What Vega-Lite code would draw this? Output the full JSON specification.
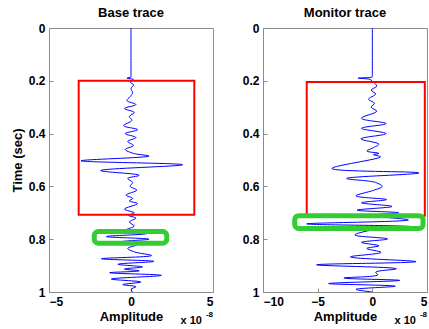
{
  "$schema": "https://vega.github.io/schema/vega-lite/v6.json",
  "padding": {"left": 10, "top": 6, "right": 0, "bottom": 0},
  "spacing": 27,
  "config": {
    "font": "Liberation Sans",
    "view": {"stroke": "#8c8c8c", "strokeWidth": 1},
    "axis": {
      "labelFont": "Liberation Sans", "labelFontWeight": "bold", "labelFontSize": 12, "labelColor": "#000",
      "titleFont": "Liberation Sans", "titleFontWeight": "bold", "titleFontSize": 13, "titleColor": "#000",
      "domain": false, "grid": false, "tickSize": -4, "tickColor": "#8c8c8c", "labelPadding": 8
    },
    "title": {"font": "Liberation Sans", "fontWeight": "bold", "fontSize": 13, "color": "#000", "offset": 2}
  },
  "datasets": {
    "base": [
      {"t": 0.0, "a": 0}, {"t": 0.1, "a": 0}, {"t": 0.18, "a": 0}, {"t": 0.185, "a": 0}, {"t": 0.19, "a": -0.25}, {"t": 0.195, "a": 0.15}, {"t": 0.205, "a": -0.05},
      {"t": 0.215, "a": 0.15}, {"t": 0.23, "a": 0.0}, {"t": 0.245, "a": 0.1}, {"t": 0.26, "a": -0.05}, {"t": 0.275, "a": -0.25},
      {"t": 0.29, "a": 0.3}, {"t": 0.305, "a": -0.4}, {"t": 0.32, "a": 0.2}, {"t": 0.335, "a": -0.1}, {"t": 0.35, "a": 0.05},
      {"t": 0.37, "a": -0.45}, {"t": 0.385, "a": 0.4}, {"t": 0.4, "a": -0.35}, {"t": 0.415, "a": 0.3}, {"t": 0.43, "a": -0.2},
      {"t": 0.445, "a": 0.15}, {"t": 0.46, "a": -0.35}, {"t": 0.475, "a": 0.15}, {"t": 0.485, "a": 1.1}, {"t": 0.503, "a": -3.05},
      {"t": 0.518, "a": 3.15}, {"t": 0.54, "a": -1.85}, {"t": 0.558, "a": 0.5}, {"t": 0.57, "a": -0.2}, {"t": 0.585, "a": 0.1},
      {"t": 0.6, "a": -0.05}, {"t": 0.614, "a": 0.35}, {"t": 0.633, "a": -0.3}, {"t": 0.645, "a": 0.1}, {"t": 0.655, "a": -0.1},
      {"t": 0.665, "a": 0.4}, {"t": 0.686, "a": -0.4}, {"t": 0.7, "a": 0.2}, {"t": 0.71, "a": -0.15}, {"t": 0.72, "a": 0.3},
      {"t": 0.735, "a": -0.1}, {"t": 0.75, "a": 0.2}, {"t": 0.765, "a": -0.3}, {"t": 0.778, "a": 1.0}, {"t": 0.79, "a": -1.5},
      {"t": 0.8, "a": 1.1}, {"t": 0.81, "a": -0.6}, {"t": 0.82, "a": 0.4}, {"t": 0.835, "a": -0.2}, {"t": 0.848, "a": 0.2},
      {"t": 0.862, "a": 1.25}, {"t": 0.874, "a": -1.8}, {"t": 0.884, "a": 1.4}, {"t": 0.895, "a": -0.8}, {"t": 0.905, "a": 0.7},
      {"t": 0.913, "a": -0.4}, {"t": 0.92, "a": 0.5}, {"t": 0.927, "a": -1.3}, {"t": 0.937, "a": 1.85}, {"t": 0.951, "a": -1.2},
      {"t": 0.962, "a": 0.6}, {"t": 0.972, "a": -0.5}, {"t": 0.98, "a": 0.3}, {"t": 0.99, "a": 0.0}, {"t": 1.0, "a": 0.1}
    ],
    "monitor": [
      {"t": 0.0, "a": 0}, {"t": 0.1, "a": 0}, {"t": 0.18, "a": 0}, {"t": 0.185, "a": 0}, {"t": 0.19, "a": -1.3}, {"t": 0.195, "a": -0.2}, {"t": 0.205, "a": 0.1},
      {"t": 0.22, "a": 0.4}, {"t": 0.235, "a": -0.1}, {"t": 0.25, "a": 0.3}, {"t": 0.27, "a": -0.35}, {"t": 0.285, "a": 0.2},
      {"t": 0.3, "a": -0.1}, {"t": 0.315, "a": 0.4}, {"t": 0.342, "a": -1.0}, {"t": 0.362, "a": 1.25}, {"t": 0.38, "a": -1.0},
      {"t": 0.4, "a": 1.25}, {"t": 0.42, "a": -1.05}, {"t": 0.44, "a": 0.6}, {"t": 0.455, "a": 0.0}, {"t": 0.466, "a": -0.5},
      {"t": 0.475, "a": 0.6}, {"t": 0.48, "a": 0.1}, {"t": 0.488, "a": 0.75}, {"t": 0.532, "a": -3.7}, {"t": 0.549, "a": 4.25},
      {"t": 0.57, "a": -2.35}, {"t": 0.585, "a": 0.3}, {"t": 0.6, "a": 0.9}, {"t": 0.615, "a": 0.1}, {"t": 0.636, "a": -1.5},
      {"t": 0.65, "a": 1.3}, {"t": 0.662, "a": -1.0}, {"t": 0.676, "a": 1.8}, {"t": 0.69, "a": -1.4}, {"t": 0.7, "a": 2.4},
      {"t": 0.71, "a": -0.3}, {"t": 0.727, "a": 3.3}, {"t": 0.742, "a": -6.0}, {"t": 0.753, "a": 3.7}, {"t": 0.765, "a": 0.0},
      {"t": 0.784, "a": -1.6}, {"t": 0.799, "a": 1.4}, {"t": 0.812, "a": -1.0}, {"t": 0.825, "a": 0.6}, {"t": 0.835, "a": -0.5},
      {"t": 0.85, "a": 0.8}, {"t": 0.867, "a": -2.0}, {"t": 0.885, "a": 4.0}, {"t": 0.897, "a": -5.1}, {"t": 0.912, "a": 2.2},
      {"t": 0.925, "a": 0.3}, {"t": 0.935, "a": 0.5}, {"t": 0.947, "a": -2.6}, {"t": 0.956, "a": 2.5}, {"t": 0.968, "a": -4.0},
      {"t": 0.978, "a": 2.1}, {"t": 0.99, "a": -1.5}, {"t": 1.0, "a": 0.0}
    ],
    "baseRed": [{"x1": -3.19, "x2": 3.86, "y1": 0.2, "y2": 0.707}],
    "baseGreen": [{"x1": -2.24, "x2": 2.18, "y1": 0.771, "y2": 0.815}],
    "monRed": [{"x1": -6.0, "x2": 4.8, "y1": 0.205, "y2": 0.711}],
    "monGreen": [{"x1": -7.1, "x2": 4.64, "y1": 0.711, "y2": 0.759}],
    "expo": [{"base": "x 10", "sup": "-8"}]
  },
  "hconcat": [
    {
      "title": "Base trace",
      "width": 164, "height": 264,
      "layer": [
        {
          "data": {"name": "base"},
          "mark": {"type": "line", "color": "#0000ff", "strokeWidth": 1, "clip": true, "interpolate": "catmull-rom"},
          "encoding": {
            "x": {"field": "a", "type": "quantitative", "scale": {"domain": [-5, 5], "nice": false, "zero": false}, "axis": {"title": "Amplitude", "values": [-5, 0, 5], "titlePadding": 3}},
            "y": {"field": "t", "type": "quantitative", "scale": {"domain": [0, 1], "reverse": true, "nice": false}, "axis": {"title": "Time (sec)", "values": [0, 0.2, 0.4, 0.6, 0.8, 1], "format": "~g", "titlePadding": 4}},
            "order": {"field": "t", "type": "quantitative"}
          }
        },
        {
          "data": {"name": "baseRed"},
          "mark": {"type": "rect", "fillOpacity": 0, "stroke": "#ff0000", "strokeWidth": 2},
          "encoding": {
            "x": {"field": "x1", "type": "quantitative"}, "x2": {"field": "x2"},
            "y": {"field": "y1", "type": "quantitative"}, "y2": {"field": "y2"}
          }
        },
        {
          "data": {"name": "baseGreen"},
          "mark": {"type": "rect", "fillOpacity": 0, "stroke": "#33cc33", "strokeWidth": 5, "cornerRadius": 4},
          "encoding": {
            "x": {"field": "x1", "type": "quantitative"}, "x2": {"field": "x2"},
            "y": {"field": "y1", "type": "quantitative"}, "y2": {"field": "y2"}
          }
        },
        {
          "data": {"name": "expo"},
          "mark": {"type": "text", "align": "right", "baseline": "middle", "dx": -11, "dy": 29, "fontSize": 11, "fontWeight": "bold", "font": "Liberation Sans"},
          "encoding": {"x": {"datum": 5, "type": "quantitative"}, "y": {"datum": 1, "type": "quantitative"}, "text": {"field": "base"}}
        },
        {
          "data": {"name": "expo"},
          "mark": {"type": "text", "align": "right", "baseline": "middle", "dx": 0, "dy": 23, "fontSize": 8, "fontWeight": "bold", "font": "Liberation Sans"},
          "encoding": {"x": {"datum": 5, "type": "quantitative"}, "y": {"datum": 1, "type": "quantitative"}, "text": {"field": "sup"}}
        }
      ]
    },
    {
      "title": "Monitor trace",
      "width": 164, "height": 264,
      "layer": [
        {
          "data": {"name": "monitor"},
          "mark": {"type": "line", "color": "#0000ff", "strokeWidth": 1, "clip": true, "interpolate": "catmull-rom"},
          "encoding": {
            "x": {"field": "a", "type": "quantitative", "scale": {"domain": [-10, 5], "nice": false, "zero": false}, "axis": {"title": "Amplitude", "values": [-10, -5, 0, 5], "titlePadding": 3}},
            "y": {"field": "t", "type": "quantitative", "scale": {"domain": [0, 1], "reverse": true, "nice": false}, "axis": {"title": null, "values": [0, 0.2, 0.4, 0.6, 0.8, 1], "format": "~g"}},
            "order": {"field": "t", "type": "quantitative"}
          }
        },
        {
          "data": {"name": "monRed"},
          "mark": {"type": "rect", "fillOpacity": 0, "stroke": "#ff0000", "strokeWidth": 2},
          "encoding": {
            "x": {"field": "x1", "type": "quantitative"}, "x2": {"field": "x2"},
            "y": {"field": "y1", "type": "quantitative"}, "y2": {"field": "y2"}
          }
        },
        {
          "data": {"name": "monGreen"},
          "mark": {"type": "rect", "fillOpacity": 0, "stroke": "#33cc33", "strokeWidth": 5, "cornerRadius": 4},
          "encoding": {
            "x": {"field": "x1", "type": "quantitative"}, "x2": {"field": "x2"},
            "y": {"field": "y1", "type": "quantitative"}, "y2": {"field": "y2"}
          }
        },
        {
          "data": {"name": "expo"},
          "mark": {"type": "text", "align": "right", "baseline": "middle", "dx": -11, "dy": 29, "fontSize": 11, "fontWeight": "bold", "font": "Liberation Sans"},
          "encoding": {"x": {"datum": 5, "type": "quantitative"}, "y": {"datum": 1, "type": "quantitative"}, "text": {"field": "base"}}
        },
        {
          "data": {"name": "expo"},
          "mark": {"type": "text", "align": "right", "baseline": "middle", "dx": 0, "dy": 23, "fontSize": 8, "fontWeight": "bold", "font": "Liberation Sans"},
          "encoding": {"x": {"datum": 5, "type": "quantitative"}, "y": {"datum": 1, "type": "quantitative"}, "text": {"field": "sup"}}
        }
      ]
    }
  ]
}
